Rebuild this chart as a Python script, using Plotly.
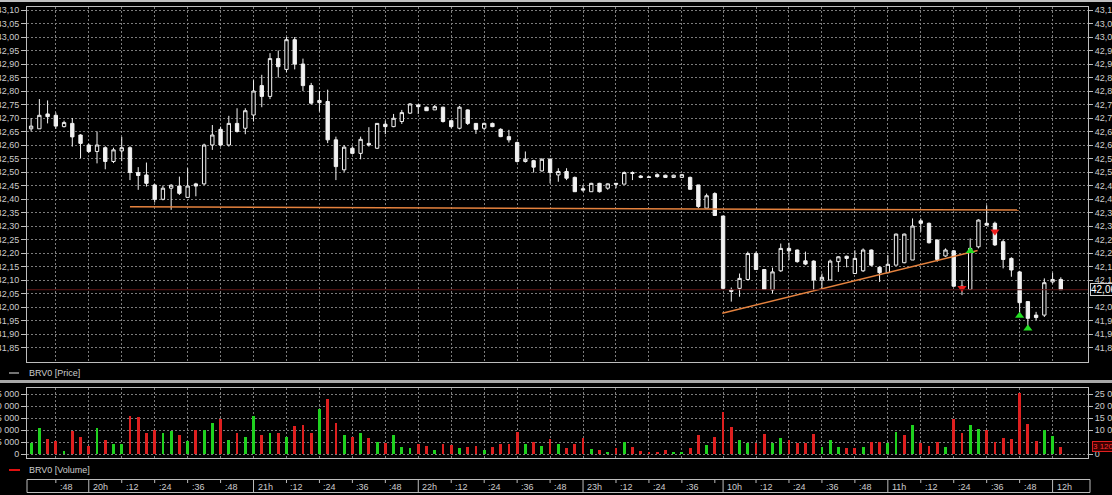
import plotly.graph_objects as go

W, H = 1112, 495

# ---------------- data (3-minute candles, BRV0) ----------------
opens = [42.66, 42.66, 42.715, 42.71, 42.668, 42.68, 42.637, 42.60, 42.576, 42.59,
         42.539, 42.578, 42.59, 42.498, 42.489, 42.452, 42.399, 42.44, 42.448, 42.406,
         42.456, 42.456, 42.60, 42.658, 42.60, 42.68, 42.662, 42.711, 42.82, 42.78,
         42.92, 42.88, 42.99, 42.90, 42.82, 42.757, 42.761, 42.619, 42.508, 42.588,
         42.569, 42.606, 42.588, 42.677, 42.668, 42.687, 42.718, 42.748, 42.74, 42.73,
         42.74, 42.69, 42.662, 42.73, 42.68, 42.662, 42.68, 42.658, 42.631, 42.609,
         42.539, 42.542, 42.504, 42.547, 42.489, 42.502, 42.48, 42.438, 42.427, 42.458,
         42.44, 42.458, 42.455, 42.498, 42.485, 42.482, 42.49, 42.488, 42.48, 42.48,
         42.48, 42.452, 42.366, 42.42, 42.337, 42.063, 42.069, 42.102, 42.198, 42.139,
         42.063, 42.134, 42.217, 42.211, 42.171, 42.17, 42.10, 42.10, 42.168, 42.188,
         42.124, 42.134, 42.211, 42.147, 42.127, 42.155, 42.164, 42.174, 42.319, 42.31,
         42.248, 42.189, 42.208, 42.077, 42.065, 42.223, 42.31, 42.31, 42.242, 42.18,
         42.13, 42.02, 41.97, 41.97, 42.093, 42.102]
highs = [42.70, 42.77, 42.765, 42.72, 42.69, 42.70, 42.64, 42.605, 42.65, 42.595,
         42.59, 42.63, 42.595, 42.518, 42.535, 42.455, 42.45, 42.455, 42.483, 42.514,
         42.46, 42.605, 42.674, 42.668, 42.708, 42.736, 42.736, 42.84, 42.86, 42.94,
         42.95, 43.00, 43.00, 42.92, 42.83, 42.80, 42.805, 42.631, 42.60, 42.595,
         42.631, 42.666, 42.68, 42.69, 42.715, 42.73, 42.755, 42.752, 42.742, 42.748,
         42.742, 42.69, 42.745, 42.732, 42.68, 42.683, 42.683, 42.662, 42.656, 42.613,
         42.576, 42.545, 42.551, 42.551, 42.514, 42.514, 42.483, 42.452, 42.46, 42.46,
         42.458, 42.458, 42.502, 42.502, 42.489, 42.485, 42.495, 42.49, 42.49, 42.493,
         42.483, 42.452, 42.42, 42.425, 42.337, 42.072, 42.124, 42.205, 42.205, 42.139,
         42.146, 42.235, 42.238, 42.213, 42.205, 42.173, 42.124, 42.176, 42.188, 42.19,
         42.21, 42.217, 42.213, 42.151, 42.192, 42.272, 42.272, 42.328, 42.328, 42.313,
         42.25, 42.217, 42.211, 42.10, 42.254, 42.325, 42.377, 42.316, 42.25, 42.184,
         42.134, 42.02, 41.982, 42.106, 42.127, 42.11]
lows = [42.65, 42.66, 42.68, 42.66, 42.665, 42.594, 42.551, 42.57, 42.532, 42.51,
        42.533, 42.54, 42.47, 42.434, 42.446, 42.387, 42.395, 42.36, 42.415, 42.406,
        42.41, 42.452, 42.582, 42.594, 42.594, 42.646, 42.64, 42.687, 42.74, 42.77,
        42.85, 42.87, 42.88, 42.80, 42.75, 42.724, 42.607, 42.47, 42.50, 42.565,
        42.547, 42.594, 42.585, 42.64, 42.666, 42.678, 42.715, 42.715, 42.727, 42.73,
        42.683, 42.662, 42.658, 42.674, 42.641, 42.654, 42.666, 42.629, 42.609, 42.535,
        42.535, 42.498, 42.502, 42.458, 42.464, 42.47, 42.427, 42.427, 42.427, 42.424,
        42.434, 42.44, 42.455, 42.47, 42.477, 42.478, 42.479, 42.478, 42.478, 42.478,
        42.434, 42.366, 42.366, 42.337, 42.063, 42.02, 42.038, 42.10, 42.137, 42.063,
        42.05, 42.13, 42.174, 42.164, 42.155, 42.06, 42.068, 42.10, 42.13, 42.147,
        42.124, 42.13, 42.151, 42.093, 42.125, 42.155, 42.162, 42.174, 42.279, 42.235,
        42.168, 42.186, 42.074, 42.044, 42.063, 42.217, 42.303, 42.226, 42.143, 42.112,
        41.976, 41.927, 41.951, 41.963, 42.087, 42.063]
closes = [42.67, 42.71, 42.705, 42.67, 42.683, 42.63, 42.606, 42.576, 42.60, 42.539,
          42.582, 42.59, 42.498, 42.487, 42.458, 42.399, 42.44, 42.451, 42.421, 42.448,
          42.448, 42.60, 42.637, 42.60, 42.68, 42.65, 42.727, 42.80, 42.78, 42.92,
          42.89, 42.99, 42.90, 42.82, 42.755, 42.765, 42.619, 42.52, 42.592, 42.569,
          42.621, 42.60, 42.68, 42.668, 42.699, 42.72, 42.752, 42.742, 42.727, 42.742,
          42.687, 42.668, 42.74, 42.68, 42.658, 42.68, 42.668, 42.631, 42.619, 42.539,
          42.547, 42.518, 42.547, 42.498, 42.502, 42.477, 42.427, 42.433, 42.458, 42.427,
          42.456, 42.455, 42.498, 42.495, 42.48, 42.48, 42.483, 42.48, 42.488, 42.49,
          42.436, 42.372, 42.412, 42.339, 42.069, 42.058, 42.106, 42.198, 42.139, 42.065,
          42.13, 42.217, 42.208, 42.168, 42.159, 42.10, 42.11, 42.17, 42.186, 42.18,
          42.18, 42.211, 42.155, 42.127, 42.158, 42.27, 42.27, 42.30, 42.31, 42.238,
          42.176, 42.211, 42.077, 42.069, 42.217, 42.322, 42.303, 42.23, 42.176, 42.137,
          42.016, 41.958, 41.961, 42.09, 42.102, 42.064]
volumes = [4700, 11000, 6100, 5400, 1400, 9700, 7200, 3500, 11000, 5800,
           4200, 4200, 16000, 15300, 8900, 10000, 8600, 9600, 7900, 5600,
           10000, 10000, 12800, 14400, 5800, 8900, 6900, 15800, 7900, 8600,
           8900, 6900, 11700, 12100, 8600, 18600, 22900, 13100, 7900, 6900,
           8600, 6500, 5100, 4400, 7900, 2800, 2400, 4000, 3300, 1700,
           4200, 3800, 2400, 3100, 3300, 1700, 3100, 4200, 4200, 9300,
           4200, 5100, 3300, 6100, 4200, 2400, 4000, 6500, 1900, 1700,
           1000, 2400, 5100, 2800, 1400, 600, 1000, 1700, 600, 600,
           2400, 7900, 3800, 7200, 17600, 11400, 5800, 4700, 4700, 8200,
           4700, 6500, 5800, 4700, 4700, 8200, 3100, 5800, 2800, 2400,
           2600, 3100, 5100, 5100, 4400, 9000, 7900, 12100, 4400, 3300,
           5100, 3100, 14400, 8900, 12100, 10300, 10000, 5100, 6500, 6100,
           25600, 12400, 5300, 10100, 7400, 3120]
vol_dir = ("GGRRGRRRGR" "GGRRRRGGRG" "RGGRGRGGRG" "RGRRRGRRGR" "GRGRGGGRRG"
           "RRGRRGRRRR" "GRGRGRRRGR" "GRGRRRRRGG" "RRGRRRGGRR" "GGRRRRGGGR"
           "RGRRGGRGRR" "RGRRGGRRRR" "RRRGGR")

# annotations drawn on the chart
level_x = [12.0, 119.9]
level_y = [42.371, 42.359]
trend_x = [83.9, 114.9]
trend_y = [41.977, 42.209]
buy_x = [114, 120, 121]
buy_y = [42.207, 41.968, 41.920]
sell_x = [113, 117]
sell_y = [42.070, 42.280]

# axes
grid_idx = [3, 7, 11, 15, 19, 23, 27, 31, 35, 39, 43, 47, 51, 55, 59, 63, 67, 71, 75, 79,
            84, 88, 92, 96, 100, 104, 108, 112, 116, 120, 124]
time_idx = [3, 7, 11, 15, 19, 23, 27, 31, 35, 39, 43, 47, 51, 55, 59, 63, 67, 71, 75, 79, 83,
            84, 88, 92, 96, 100, 104, 108, 112, 116, 120, 124]
time_text = [":48", "20h", ":12", ":24", ":36", ":48", "21h", ":12", ":24", ":36", ":48",
             "22h", ":12", ":24", ":36", ":48", "23h", ":12", ":24", ":36", "",
             "10h", ":12", ":24", ":36", ":48", "11h", ":12", ":24", ":36", ":48", "12h"]
price_ticks = [41.85, 41.90, 41.95, 42.00, 42.05, 42.10, 42.15, 42.20, 42.25, 42.30, 42.35,
               42.40, 42.45, 42.50, 42.55, 42.60, 42.65, 42.70, 42.75, 42.80, 42.85, 42.90,
               42.95, 43.00, 43.05, 43.10]
vol_ticks = [0, 5000, 10000, 15000, 20000, 25000]

# ---------------- layout helpers ----------------
def px(x):
    return x / W

def py(y):
    return 1 - y / H

PLOT_L, PLOT_R = 27, 1088
P_TOP, P_BOT = 7, 362
V_TOP, V_BOT = 388, 458
X_RANGE = [-0.5, 128.3]
P_RANGE = [43.10 - (P_BOT - 10) / 270.0, 43.10 + (10 - P_TOP) / 270.0]
V_RANGE = [-(V_BOT - 454) / 12.0 * 5000, 25000 + (394 - V_TOP) / 12.0 * 5000]

FONT = "Arial, Liberation Sans, sans-serif"
TXT = "#cccccc"
GRID = "#7c7c7c"
FRAME = "#bdbdbd"
GREEN = "#1fd21f"
RED = "#de1f1f"

idx = list(range(len(opens)))

# right-hand labels hidden behind the current-value boxes in the reference
right_price_ticks = [t for t in price_ticks if abs(t - closes[-1]) > 0.03]
right_vol_ticks = [t for t in vol_ticks if abs(t - volumes[-1]) > 2500]

fig = go.Figure()
fig.add_trace(go.Candlestick(
    x=idx, open=opens, high=highs, low=lows, close=closes,
    increasing=dict(line=dict(color="#f2f2f2", width=1), fillcolor="#000000"),
    decreasing=dict(line=dict(color="#f2f2f2", width=1), fillcolor="#f2f2f2"),
    whiskerwidth=0, xaxis="x", yaxis="y", showlegend=False, hoverinfo="skip"))
fig.add_trace(go.Scatter(x=idx, y=closes, xaxis="x", yaxis="y3", mode="lines",
                         line=dict(width=0), opacity=0, hoverinfo="skip", showlegend=False))
fig.add_trace(go.Scatter(x=level_x, y=level_y, xaxis="x", yaxis="y", mode="lines",
                         line=dict(color="#e5823e", width=1.5), hoverinfo="skip", showlegend=False))
fig.add_trace(go.Scatter(x=trend_x, y=trend_y, xaxis="x", yaxis="y", mode="lines",
                         line=dict(color="#e5823e", width=1.5), hoverinfo="skip", showlegend=False))
fig.add_trace(go.Scatter(x=buy_x, y=buy_y, xaxis="x", yaxis="y", mode="markers",
                         marker=dict(symbol="triangle-up", size=8, color="#22dd22", line=dict(width=0)),
                         hoverinfo="skip", showlegend=False))
fig.add_trace(go.Scatter(x=sell_x, y=sell_y, xaxis="x", yaxis="y", mode="markers",
                         marker=dict(symbol="triangle-down", size=8, color="#ee1c1c", line=dict(width=0)),
                         hoverinfo="skip", showlegend=False))
fig.add_trace(go.Bar(x=idx, y=volumes, xaxis="x2", yaxis="y2", width=0.34,
                     marker=dict(color=[GREEN if d == "G" else RED for d in vol_dir], line=dict(width=0)),
                     hoverinfo="skip", showlegend=False))
fig.add_trace(go.Scatter(x=idx, y=volumes, xaxis="x2", yaxis="y4", mode="lines",
                         line=dict(width=0), opacity=0, hoverinfo="skip", showlegend=False))

tickfont = dict(family=FONT, size=9, color=TXT)
common_x = dict(domain=[px(PLOT_L), px(PLOT_R)], range=X_RANGE, tickmode="array",
                tickvals=grid_idx, showticklabels=False, ticks="", showgrid=True,
                gridcolor=GRID, griddash="2px,2px", gridwidth=1, zeroline=False,
                showline=True, linecolor=FRAME, linewidth=1, mirror=True, fixedrange=True,
                automargin=False)

fig.update_layout(
    width=W, height=H, autosize=False,
    margin=dict(l=0, r=0, t=0, b=0, pad=0, autoexpand=False),
    paper_bgcolor="#000000", plot_bgcolor="#000000",
    separators=", ", bargap=0, boxgap=0.42,
    font=dict(family=FONT, size=9, color=TXT),
    xaxis=dict(anchor="y", rangeslider=dict(visible=False), **common_x),
    xaxis2=dict(anchor="y2", matches="x", **common_x),
    yaxis=dict(domain=[py(P_BOT), py(P_TOP)], range=P_RANGE, side="left", automargin=False,
               tickmode="array", tickvals=price_ticks, tickformat=".2f",
               ticks="outside", ticklen=5, tickcolor=FRAME, tickfont=tickfont,
               showgrid=True, gridcolor=GRID, griddash="2px,2px", gridwidth=1,
               zeroline=False, showline=True, linecolor=FRAME, mirror=True, fixedrange=True),
    yaxis3=dict(overlaying="y", side="right", anchor="x", range=P_RANGE, automargin=False,
                tickmode="array", tickvals=right_price_ticks, tickformat=".2f",
                ticks="outside", ticklen=4, tickcolor=FRAME, tickfont=tickfont,
                showgrid=False, zeroline=False, showline=False, fixedrange=True),
    yaxis2=dict(domain=[py(V_BOT), py(V_TOP)], range=V_RANGE, side="left", anchor="x2",
                automargin=False, tickmode="array", tickvals=vol_ticks, tickformat=",d",
                ticks="outside", ticklen=5, tickcolor=FRAME, tickfont=tickfont,
                showgrid=True, gridcolor=GRID, griddash="2px,2px", gridwidth=1,
                zeroline=False, showline=True, linecolor=FRAME, mirror=True, fixedrange=True),
    yaxis4=dict(overlaying="y2", side="right", anchor="x2", range=V_RANGE, automargin=False,
                tickmode="array", tickvals=right_vol_ticks, tickformat=",d",
                ticks="outside", ticklen=4, tickcolor=FRAME, tickfont=tickfont,
                showgrid=False, zeroline=False, showline=False, fixedrange=True),
)

shapes = []
annos = []

# thin light strip at the very top of the window
shapes.append(dict(type="line", xref="paper", yref="paper", x0=0, x1=1,
                   y0=py(1), y1=py(1), line=dict(color="#bfbfbf", width=2)))
# last price line
shapes.append(dict(type="line", xref="x domain", yref="y", x0=0, x1=1,
                   y0=closes[-1], y1=closes[-1], line=dict(color="#5e1616", width=1)))
# separator between panels
shapes.append(dict(type="line", xref="paper", yref="paper", x0=0, x1=1,
                   y0=py(381.5), y1=py(381.5), line=dict(color="#a8a8a8", width=3)))
# legends
shapes.append(dict(type="line", xref="paper", yref="paper", x0=px(9), x1=px(19),
                   y0=py(373), y1=py(373), line=dict(color="#9a9a9a", width=1.5)))
annos.append(dict(text="BRV0 [Price]", xref="paper", yref="paper", x=px(27), y=py(373),
                  xanchor="left", yanchor="middle", showarrow=False,
                  font=dict(family=FONT, size=9, color=TXT)))
shapes.append(dict(type="line", xref="paper", yref="paper", x0=px(9), x1=px(20),
                   y0=py(470), y1=py(470), line=dict(color="#e01010", width=2)))
annos.append(dict(text="BRV0 [Volume]", xref="paper", yref="paper", x=px(27), y=py(470),
                  xanchor="left", yanchor="middle", showarrow=False,
                  font=dict(family=FONT, size=9, color=TXT)))

# time band
B_TOP, B_BOT = 479.5, 492.5
shapes.append(dict(type="rect", xref="paper", yref="paper", x0=px(PLOT_L), x1=px(1090),
                   y0=py(B_BOT), y1=py(B_TOP), line=dict(color=FRAME, width=1)))
for i, t in zip(time_idx, time_text):
    if t.endswith("h"):
        shapes.append(dict(type="line", xref="x", yref="paper", x0=i, x1=i,
                           y0=py(B_BOT), y1=py(B_TOP), line=dict(color=FRAME, width=1)))
    else:
        shapes.append(dict(type="line", xref="x", yref="paper", x0=i, x1=i,
                           y0=py(B_TOP + 3.5), y1=py(B_TOP), line=dict(color=FRAME, width=1)))
    if t:
        annos.append(dict(text=t, xref="x", yref="paper", x=i, y=py((B_TOP + B_BOT) / 2 + 0.5),
                          xanchor="left", yanchor="middle", xshift=2, showarrow=False,
                          font=dict(family=FONT, size=9, color=TXT)))

# current value boxes on the right
annos.append(dict(text=f"{closes[-1]:.2f}".replace(".", ","), xref="paper", yref="y",
                  x=px(1090), y=closes[-1], xanchor="left", yanchor="middle", showarrow=False,
                  bgcolor="#000000", bordercolor="#cfcfcf", borderwidth=1, borderpad=0,
                  font=dict(family=FONT, size=10, color="#ffffff")))
annos.append(dict(text=f"{volumes[-1]:,}".replace(",", " "), xref="paper", yref="y2",
                  x=px(1092), y=volumes[-1], xanchor="left", yanchor="middle", showarrow=False,
                  bgcolor="#3a0000", bordercolor="#e02020", borderwidth=1, borderpad=0,
                  font=dict(family=FONT, size=8, color="#ff3030")))

fig.update_layout(shapes=shapes, annotations=annos)

fig.write_html("out.html", config={"displayModeBar": False},
               post_script="document.body.style.margin='0';document.body.style.overflow='hidden';")
